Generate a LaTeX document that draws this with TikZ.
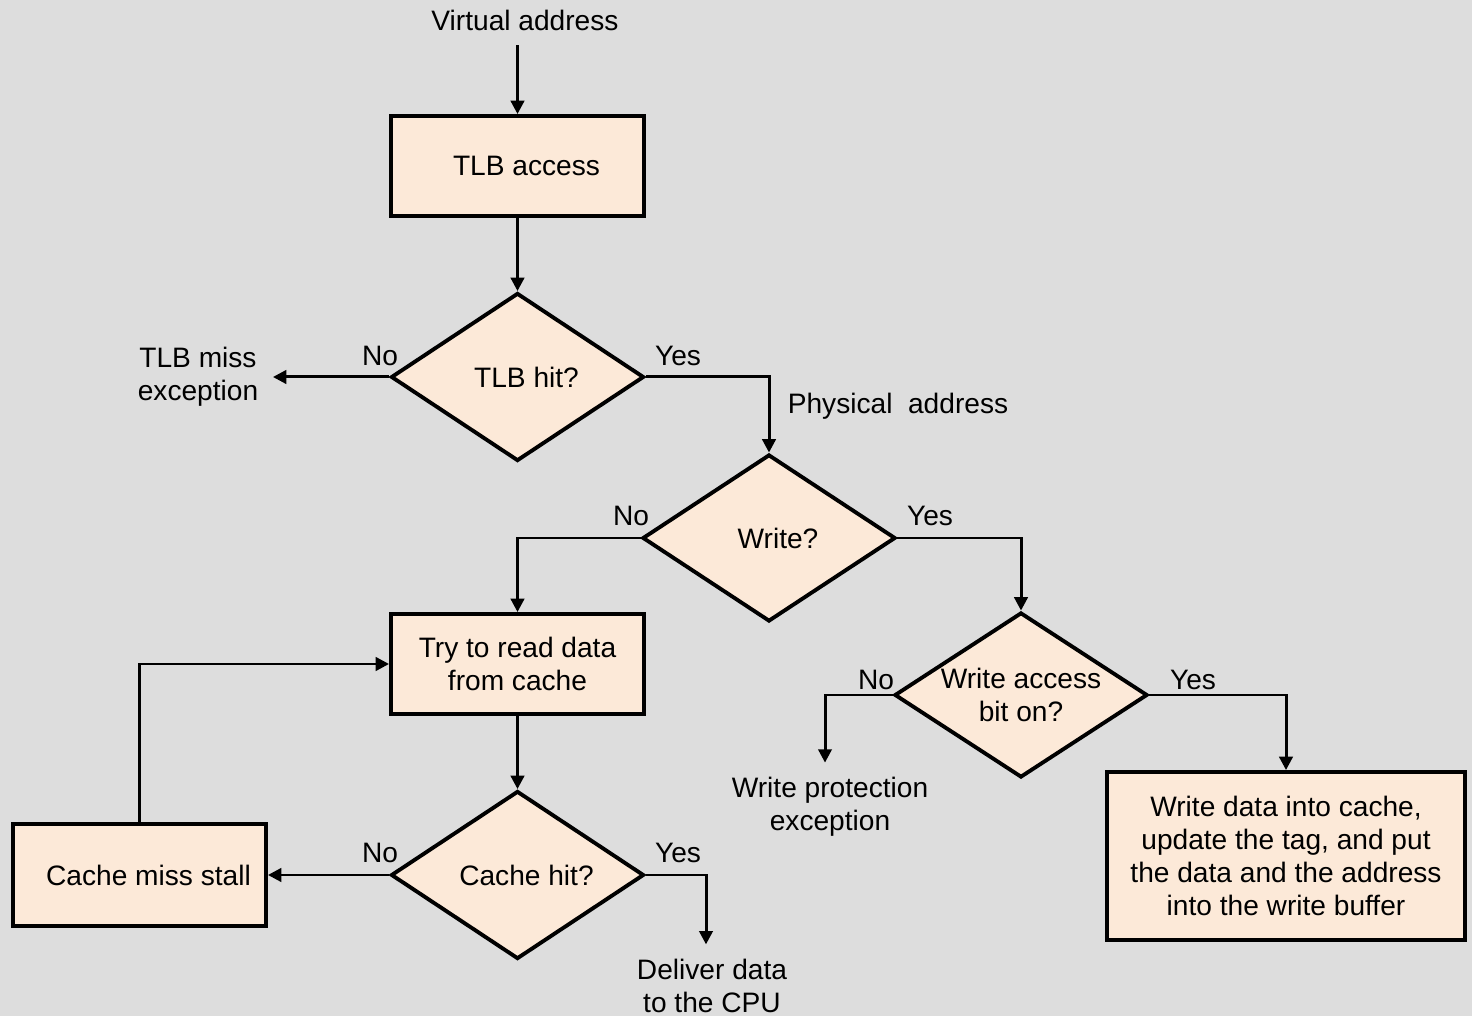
\documentclass[tikz,border=0pt]{standalone}
\usepackage{fontspec}
\setmainfont{Liberation Sans}
\usepackage{xcolor}
\usetikzlibrary{shapes.geometric, arrows.meta}

\definecolor{bggray}{RGB}{221,221,221}
\definecolor{peach}{RGB}{252,233,216}

\begin{document}
\begin{tikzpicture}[
        font=\fontsize{8}{9.4}\selectfont,
        box/.style={rectangle, draw, line width=1.1pt, fill=peach, minimum width=2.53cm, minimum height=1cm, align=center, inner sep=0pt},
        decision/.style={diamond, draw, line width=1.1pt, fill=peach, minimum width=2.53cm, minimum height=1.68cm, aspect=1.5, align=center, inner sep=0pt},
        txt/.style={align=center, inner sep=4pt},
        lbl/.style={inner sep=1pt},
        arr/.style={line width=0.85pt, -{Triangle[width=3.8pt,length=3.8pt]}}
    ]
            \fill[bggray] (0, 0) rectangle (14.72, 10.16);
            \useasboundingbox (0, 0) rectangle (14.72, 10.16);

            \node[txt] (va) at (5.25, 9.96) {Virtual address};
            \node[box] (tlb) at (5.175, 8.50) {\hspace*{0.18cm}TLB access};
            \node[decision] (tlbhit) at (5.175, 6.39) {\hspace*{0.18cm}TLB hit?};
            \node[txt] (miss) at (1.98, 6.39) {TLB miss\\exception};
            \node[txt] (phys) at (8.98, 6.10) {Physical\ \ address};
            \node[decision, minimum height=1.67cm] (write) at (7.69, 4.78) {\hspace*{0.18cm}Write?};
            \node[box] (read) at (5.175, 3.52) {Try to read data\\from cache};
            \node[decision, minimum height=1.65cm] (wab) at (10.21, 3.21) {Write access\\bit on?};
            \node[txt] (wpe) at (8.30, 2.09) {Write protection\\exception};
            \node[box, minimum width=3.58cm, minimum height=1.68cm] (wdata) at (12.86, 1.60) {Write data into cache,\\update the tag, and put\\the data and the address\\into the write buffer};
            \node[decision] (chit) at (5.175, 1.41) {\hspace*{0.18cm}Cache hit?};
            \node[box, minimum height=1.02cm] (stall) at (1.395, 1.41) {\hspace*{0.18cm}Cache miss stall};
            \node[txt] (cpu) at (7.12, 0.30) {Deliver data\\to the CPU};

            % yes / no labels
            \node[lbl] (n1) at (3.80, 6.60) {No};
            \node[lbl] (y1) at (6.78, 6.60) {Yes};
            \node[lbl] (n2) at (6.31, 5.00) {No};
            \node[lbl] (y2) at (9.30, 5.00) {Yes};
            \node[lbl] (n3) at (8.76, 3.36) {No};
            \node[lbl] (y3) at (11.93, 3.36) {Yes};
            \node[lbl] (n4) at (3.80, 1.63) {No};
            \node[lbl] (y4) at (6.78, 1.63) {Yes};

            \draw [arr] (tlb.north |- va.south) -- (tlb);
            \draw [arr] (tlb) -- (tlbhit);
            \draw [arr] (tlbhit.west) -- (tlbhit.west -| miss.east);
            \draw [arr] (tlbhit.east) -| (write.north);
            \draw [arr] (write.west) -| (read.north);
            \draw [arr] (write.east) -| (wab.north);
            \draw [arr] (wab.west) -| ([xshift=-0.05cm]wpe.north);
            \draw [arr] (wab.east) -| (wdata.north);
            \draw [arr] (read) -- (chit);
            \draw [arr] (chit.west) -- (chit.west -| stall.east);
            \draw [arr] (chit.east) -| ([xshift=-0.06cm]cpu.north);
            \draw [arr] (stall.north) |- (read.west);
        \end{tikzpicture}
\end{document}
